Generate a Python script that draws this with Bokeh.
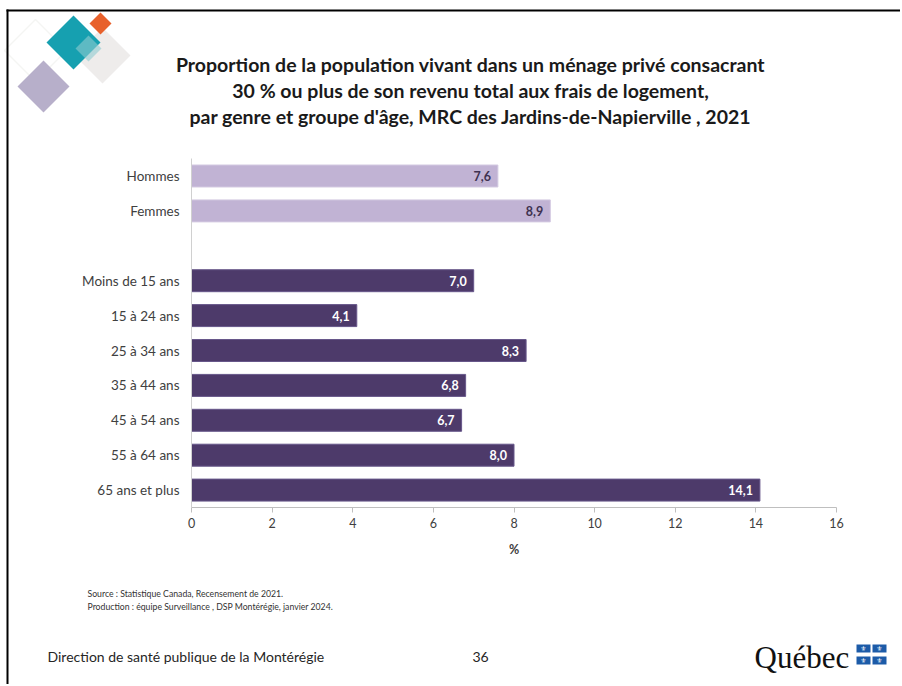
from bokeh.plotting import figure
from bokeh.models import (Range1d, Label, PolyAnnotation, ColumnDataSource, LinearAxis,
                          FixedTicker)
from bokeh.core.properties import value
from bokeh.embed import file_html
from bokeh.resources import INLINE

# ---- data ----
genre_labels = ["Hommes", "Femmes"]
genre_values = [7.6, 8.9]
age_labels = ["Moins de 15 ans", "15 à 24 ans", "25 à 34 ans", "35 à 44 ans",
              "45 à 54 ans", "55 à 64 ans", "65 ans et plus"]
age_values = [7.0, 4.1, 8.3, 6.8, 6.7, 8.0, 14.1]
x_ticks = [0, 2, 4, 6, 8, 10, 12, 14, 16]
title_lines = [
    "Proportion de la population vivant dans un ménage privé consacrant",
    "30 % ou plus de son revenu total aux frais de logement,",
    "par genre et groupe d'âge, MRC des Jardins-de-Napierville , 2021",
]
source_lines = [
    "Source : Statistique Canada, Recensement de 2021.",
    "Production : équipe Surveillance , DSP Montérégie, janvier 2024.",
]
footer_text = "Direction de santé publique de la Montérégie"
page_number = "36"

# row positions: genre rows, one blank row, then age rows
genre_pos = list(range(len(genre_labels)))
age_pos = [len(genre_labels) + 1 + i for i in range(len(age_labels))]
X_MAX = 16

LIGHT = "#C1B3D4"
DARK = "#4D3A6A"
FONT = "Lato"

# ---- layout (page pixels) ----
W, H = 900, 684
FL, FR = 191, 836          # x=0 and x=16 pixel positions
Y0, ROW = 175.5, 34.9      # centre of first row, row pitch
PX = (FR - FL) / X_MAX

p = figure(width=W, height=H, output_backend="svg", toolbar_location=None,
           x_range=Range1d(-FL / PX, X_MAX + (W - FR) / PX),
           y_range=Range1d((H - Y0) / ROW, -Y0 / ROW),
           x_axis_location=None, y_axis_location=None,
           min_border=0, min_border_left=0, min_border_right=0,
           min_border_top=0, min_border_bottom=0)
p.outline_line_color = None
p.grid.grid_line_color = None
p.background_fill_color = "white"
p.border_fill_color = "white"

n_rows = age_pos[-1] + 1
fmt = lambda v: f"{v:.1f}".replace(".", ",")
src_g = ColumnDataSource(dict(y=genre_pos, v=genre_values, t=[fmt(v) for v in genre_values]))
src_a = ColumnDataSource(dict(y=age_pos, v=age_values, t=[fmt(v) for v in age_values]))

p.hbar(y="y", right="v", left=0, height=0.63, source=src_g, fill_color=LIGHT,
       line_color="#D3C9E1", line_width=1)
p.hbar(y="y", right="v", left=0, height=0.63, source=src_a, fill_color=DARK,
       line_color="#67578A", line_width=1)
p.text(x="v", y="y", text="t", source=src_g, text_align="right", text_baseline="middle",
       x_offset=-7, text_font=value(FONT), text_font_style="bold",
       text_font_size="12.5px", text_color="#3E3150")
p.text(x="v", y="y", text="t", source=src_a, text_align="right", text_baseline="middle",
       x_offset=-7, text_font=value(FONT), text_font_style="bold",
       text_font_size="12.5px", text_color="white")

# ---- axes (fixed inside the full-canvas frame) ----
xaxis = LinearAxis(fixed_location=n_rows - 0.5, bounds=(0, X_MAX),
                   ticker=FixedTicker(ticks=x_ticks))
xaxis.axis_line_color = "#BFBFBF"
xaxis.major_tick_line_color = "#BFBFBF"
xaxis.major_tick_out = 5
xaxis.major_tick_in = 0
xaxis.minor_tick_line_color = None
xaxis.major_label_text_font = FONT
xaxis.major_label_text_font_size = "12.5px"
xaxis.major_label_text_color = "#404040"
xaxis.major_label_standoff = 5
xaxis.axis_label = "%"
xaxis.axis_label_text_font = FONT
xaxis.axis_label_text_font_style = "bold"
xaxis.axis_label_text_font_size = "12.5px"
xaxis.axis_label_text_color = "#404040"
xaxis.axis_label_standoff = 11
p.add_layout(xaxis, "below")

yaxis = LinearAxis(fixed_location=0, bounds=(-0.5, n_rows - 0.5),
                   ticker=FixedTicker(ticks=genre_pos + age_pos))
yaxis.major_label_overrides = {**{pos: lab for pos, lab in zip(genre_pos, genre_labels)},
                               **{pos: lab for pos, lab in zip(age_pos, age_labels)}}
yaxis.axis_line_color = "#D0D0D0"
yaxis.major_tick_line_color = None
yaxis.major_tick_out = 0
yaxis.major_tick_in = 0
yaxis.minor_tick_line_color = None
yaxis.major_label_text_font = FONT
yaxis.major_label_text_font_size = "13.5px"
yaxis.major_label_text_color = "#404040"
yaxis.major_label_standoff = 12
p.add_layout(yaxis, "left")

# ---- page decorations (screen units: x from left, y from bottom) ----
def sx(q):
    return q

def sy(pp):
    return H - pp

def label(x, y, text, size, color="#222222", bold=False, align="left", font=FONT):
    p.add_layout(Label(x=sx(x), y=sy(y), x_units="screen", y_units="screen", text=text,
                       text_font=font, text_font_size=size, text_color=color,
                       text_font_style="bold" if bold else "normal",
                       text_align=align, text_baseline="middle"))

def poly(xs, ys, fill, alpha=1.0, line=None, lw=1):
    p.add_layout(PolyAnnotation(xs=[sx(v) for v in xs], ys=[sy(v) for v in ys],
                                xs_units="screen", ys_units="screen",
                                fill_color=fill, fill_alpha=alpha,
                                line_color=line, line_width=lw))

def diamond(cx, cy, r, fill, alpha=1.0, line=None, lw=1):
    poly([cx, cx + r, cx, cx - r], [cy - r, cy, cy + r, cy], fill, alpha, line, lw)

# logo diamonds
diamond(35, 50, 31, None, 1.0, "#D9DED6", 1.5)
diamond(102, 55, 28, "#EEECEB")
diamond(73, 42, 27, "#16A0B0")
diamond(100, 23, 11, "#E8612C")
diamond(88, 48, 13, "#8FCBD0", 0.6)
diamond(43, 86, 26, "#B7AFCA")

# title
for i, line in enumerate(title_lines):
    label(470, 64 + 26 * i, line, "19.5px", "#1A1A1A", bold=True, align="center")

# source notes
for i, line in enumerate(source_lines):
    label(87, 593 + 13 * i, line, "8.7px", "#333333")

# footer
label(47, 656, footer_text, "14px", "#262626")
label(480, 656, page_number, "14px", "#262626", align="center")
label(754, 657, "Québec", "31px", "#111111", font="Liberation Serif")

# flag boxes
for bx in (856, 872):
    for by in (644, 656):
        poly([bx, bx + 14, bx + 14, bx], [by, by, by + 8, by + 8], "#1C5BA8")
        label(bx + 7, by + 4, "⚜", "7px", "white", align="center", font="DejaVu Sans")

# page border (top and left)
poly([6, 902, 902, 6], [9, 9, 11, 11], "black")
poly([6, 8, 8, 6], [9, 9, 686, 686], "black")

open("out.html", "w").write(file_html(p, INLINE))
